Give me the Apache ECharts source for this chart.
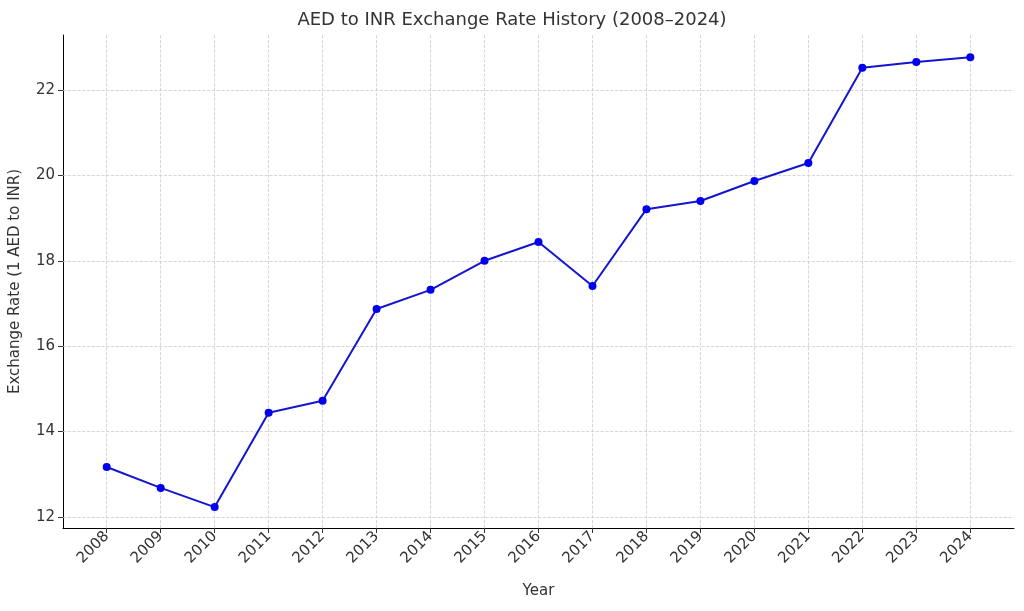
<!DOCTYPE html>
<html><head><meta charset="utf-8">
<script src="https://cdn.jsdelivr.net/npm/echarts@6/dist/echarts.min.js"></script>
<style>html,body{margin:0;padding:0;background:#fff}#c{width:1024px;height:611px}</style>
</head><body><div id="c"></div>
<script>
const years = [2008,2009,2010,2011,2012,2013,2014,2015,2016,2017,2018,2019,2020,2021,2022,2023,2024];
const rates = [13.17,12.68,12.23,14.44,14.72,16.87,17.32,18.0,18.44,17.41,19.21,19.40,19.87,20.29,22.52,22.66,22.77];
const yTicks = [12,14,16,18,20,22];
const font = 'DejaVu Sans';
const data = years.map((y,i)=>[y,rates[i]]);
const chart = echarts.init(document.getElementById('c'));
const grid = {type:'dashed', color:'#cccccc', width:0.8};
chart.setOption({
  animation:false,
  title:{text:'AED to INR Exchange Rate History (2008–2024)', left:'center', top:6,
    textStyle:{fontFamily:font, fontSize:18, fontWeight:'normal', color:'#333'}},
  grid:{left:60, right:10, top:35, bottom:83},
  xAxis:{type:'value', min:2007.19, max:2024.81, name:'Year', nameLocation:'middle', nameGap:56,
    nameTextStyle:{fontFamily:font, fontSize:15, color:'#333'},
    axisLine:{show:true, lineStyle:{color:'#000'}}, splitLine:{show:false},
    axisTick:{show:true, customValues:years, length:5, lineStyle:{color:'#333'}},
    axisLabel:{customValues:years, rotate:45, fontFamily:font, fontSize:15, color:'#333', margin:6, padding:[0,0,0,0], formatter:v=>String(v)}},
  yAxis:{type:'value', min:11.74, max:23.29, name:'Exchange Rate (1 AED to INR)', nameLocation:'middle', nameGap:40,
    nameTextStyle:{fontFamily:font, fontSize:15, color:'#333'},
    axisLine:{show:true, lineStyle:{color:'#000'}}, splitLine:{show:false},
    axisTick:{show:true, customValues:yTicks, length:5, lineStyle:{color:'#333'}},
    axisLabel:{customValues:yTicks, fontFamily:font, fontSize:15, color:'#333', margin:8}},
  series:[{type:'line', data:data, symbol:'circle', symbolSize:8, z:5,
    lineStyle:{color:'#1515d0', width:2}, itemStyle:{color:'#0000ee', borderWidth:0},
    markLine:{silent:true, symbol:'none', z:1, label:{show:false}, lineStyle:grid,
      data: years.map(y=>({xAxis:y})).concat(yTicks.map(v=>({yAxis:v})))}}]
});
</script></body></html>
